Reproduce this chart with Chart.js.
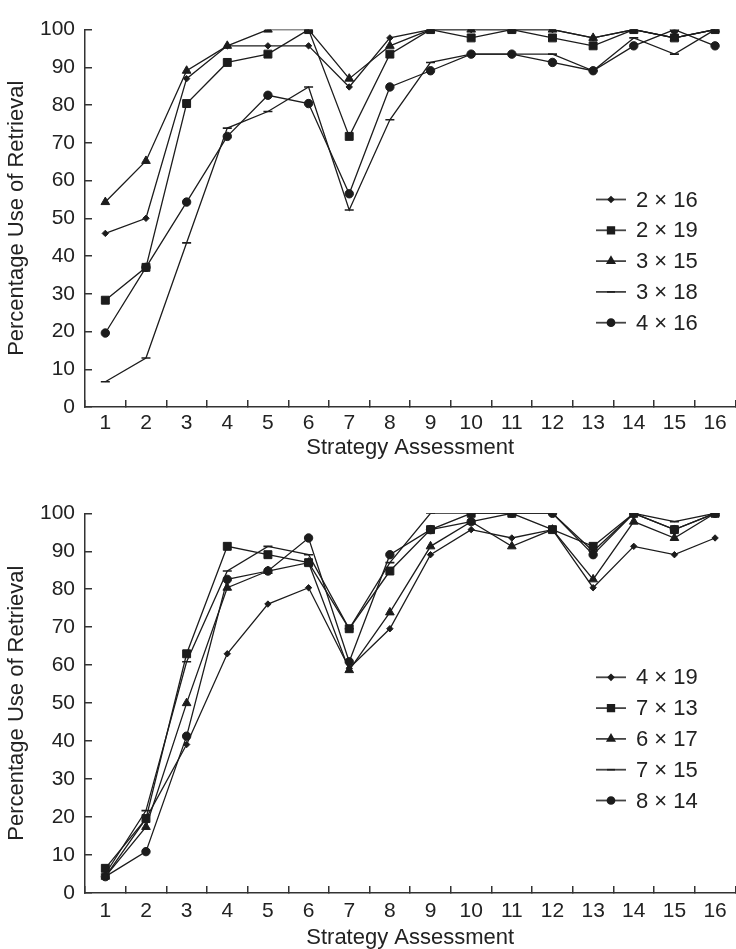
<!DOCTYPE html>
<html>
<head>
<meta charset="utf-8">
<script src="https://cdn.jsdelivr.net/npm/chart.js@4.4.1/dist/chart.umd.min.js"></script>
<style>
  html, body { margin: 0; padding: 0; background: #fff; overflow: hidden; width: 736px; height: 949px; }
  canvas { position: absolute; left: 0; }
  #top { top: 0; }
  #bottom { top: 475px; }
</style>
</head>
<body>
<canvas id="top" width="742" height="470"></canvas>
<canvas id="bottom" width="742" height="485"></canvas>
<script>
const assessments = ['1', '2', '3', '4', '5', '6', '7', '8', '9', '10', '11', '12', '13', '14', '15', '16'];
const yTicks = [0, 10, 20, 30, 40, 50, 60, 70, 80, 90, 100];

// upper panel
const topNames = ['2 \u00d7 16', '2 \u00d7 19', '3 \u00d7 15', '3 \u00d7 18', '4 \u00d7 16'];
const p2x16 = [46, 50, 87, 95.7, 95.7, 95.7, 84.8, 97.8, 100, 100, 100, 100, 97.8, 100, 97.8, 100];
const p2x19 = [28.3, 37, 80.4, 91.3, 93.5, 100, 71.7, 93.5, 100, 97.8, 100, 97.8, 95.7, 100, 97.8, 100];
const p3x15 = [54.3, 65.2, 89.1, 95.7, 100, 100, 87, 95.7, 100, 100, 100, 100, 97.8, 100, 97.8, 100];
const p3x18 = [6.7, 13, 43.5, 73.9, 78.3, 84.8, 52.2, 76.1, 91.3, 93.5, 93.5, 93.5, 89.1, 97.8, 93.5, 100];
const p4x16 = [19.6, 37, 54.3, 71.7, 82.6, 80.4, 56.5, 84.8, 89.1, 93.5, 93.5, 91.3, 89.1, 95.7, 100, 95.7];

// lower panel
const bottomNames = ['4 \u00d7 19', '7 \u00d7 13', '6 \u00d7 17', '7 \u00d7 15', '8 \u00d7 14'];
const p4x19 = [4.3, 19.6, 39.1, 63, 76.1, 80.4, 59.2, 69.6, 89.1, 95.7, 93.5, 95.7, 80.4, 91.3, 89.1, 93.5];
const p7x13 = [6.5, 19.6, 63, 91.3, 89.1, 87, 69.6, 84.8, 95.7, 100, 100, 95.7, 91.3, 100, 95.7, 100];
const p6x17 = [4.3, 17.4, 50, 80.4, 84.8, 87, 58.7, 73.9, 91.3, 97.8, 91.3, 95.7, 82.6, 97.8, 93.5, 100];
const p7x15 = [5, 21.7, 60.9, 84.8, 91.3, 89.1, 69.6, 87, 100, 100, 100, 100, 90, 100, 97.8, 100];
const p8x14 = [4.3, 10.9, 41.3, 82.6, 84.8, 93.5, 60.9, 89.1, 95.7, 97.8, 100, 100, 89.1, 100, 95.7, 100];

const ink = '#1c1c1c';
const markers = [
  { pointStyle: 'rectRot', radius: 3.2 },
  { pointStyle: 'rect', radius: 5.6 },
  { pointStyle: 'triangle', radius: 5 },
  { pointStyle: 'line', radius: 4.5 },
  { pointStyle: 'circle', radius: 4.2 }
];
const family = "'Liberation Sans', Arial, sans-serif";
const tickFont = { family: family, size: 21 };
const titleFont = { family: family, size: 22 };

function makeSets(names, series) {
  return series.map((data, i) => ({
    label: names[i],
    data: data,
    borderColor: ink,
    backgroundColor: ink,
    borderWidth: 1.3,
    pointStyle: markers[i].pointStyle,
    pointRadius: markers[i].radius,
    pointBorderWidth: markers[i].pointStyle === 'line' ? 1.6 : 1,
    pointHoverRadius: markers[i].radius,
    tension: 0
  }));
}

// legend drawn inside the plot, line + marker + text
const insideLegend = {
  id: 'insideLegend',
  afterDraw(chart, args, opts) {
    const ctx = chart.ctx;
    ctx.save();
    chart.data.datasets.forEach((ds, i) => {
      const y = opts.y + i * opts.step;
      ctx.strokeStyle = '#444';
      ctx.lineWidth = 1.8;
      ctx.beginPath();
      ctx.moveTo(opts.x, y);
      ctx.lineTo(opts.x + 30, y);
      ctx.stroke();
      ctx.fillStyle = ink;
      ctx.strokeStyle = ink;
      ctx.lineWidth = 1.6;
      Chart.helpers.drawPoint(ctx, {
        pointStyle: ds.pointStyle,
        radius: ds.pointStyle === 'line' ? 4 : ds.pointRadius * 0.85,
        rotation: 0,
        borderWidth: 1
      }, opts.x + 15, y);
      ctx.fillStyle = '#222';
      ctx.font = '22px ' + family;
      ctx.textBaseline = 'middle';
      ctx.textAlign = 'left';
      ctx.fillText(ds.label, opts.x + 40, y + 1);
    });
    ctx.restore();
  }
};

function makeChart(id, names, series, cfg) {
  return new Chart(document.getElementById(id), {
    type: 'line',
    data: { labels: assessments, datasets: makeSets(names, series) },
    plugins: [insideLegend],
    options: {
      responsive: false,
      devicePixelRatio: 1,
      animation: false,
      layout: { padding: { top: cfg.padTop, right: 1, bottom: 0, left: 0 } },
      plugins: {
        legend: { display: false },
        tooltip: { enabled: false },
        insideLegend: { x: 596, y: cfg.legendY, step: 30.8 }
      },
      scales: {
        x: {
          type: 'category',
          offset: true,
          grid: { offset: true, drawOnChartArea: false, drawTicks: true, tickLength: -7, color: '#333', lineWidth: 1.5 },
          border: { display: true, color: '#333', width: 1.5 },
          ticks: { color: '#222', font: tickFont, padding: cfg.xPad, maxRotation: 0, autoSkip: false },
          title: { display: true, text: 'Strategy Assessment', color: '#222', font: titleFont, padding: { top: 0, bottom: cfg.titlePad } },
          afterFit(scale) { scale.height = cfg.xHeight; }
        },
        y: {
          min: 0,
          max: 100,
          afterBuildTicks(scale) { scale.ticks = yTicks.map(v => ({ value: v })); },
          grid: { drawOnChartArea: false, drawTicks: true, tickLength: -7, color: '#333', lineWidth: 1.5 },
          border: { display: true, color: '#333', width: 1.5 },
          ticks: { color: '#222', font: tickFont, padding: 17 },
          title: { display: true, text: 'Percentage Use of Retrieval', color: '#222', font: titleFont, padding: { top: 4, bottom: 0 } },
          afterFit(scale) { scale.width = 85; }
        }
      }
    }
  });
}

makeChart('top', topNames, [p2x16, p2x19, p3x15, p3x18, p4x16],
  { padTop: 25, xHeight: 63, xPad: 11, titlePad: 9, legendY: 199.5 });
makeChart('bottom', bottomNames, [p4x19, p7x13, p6x17, p7x15, p8x14],
  { padTop: 38.3, xHeight: 67, xPad: 13, titlePad: 9, legendY: 202.3 });
</script>
</body>
</html>
